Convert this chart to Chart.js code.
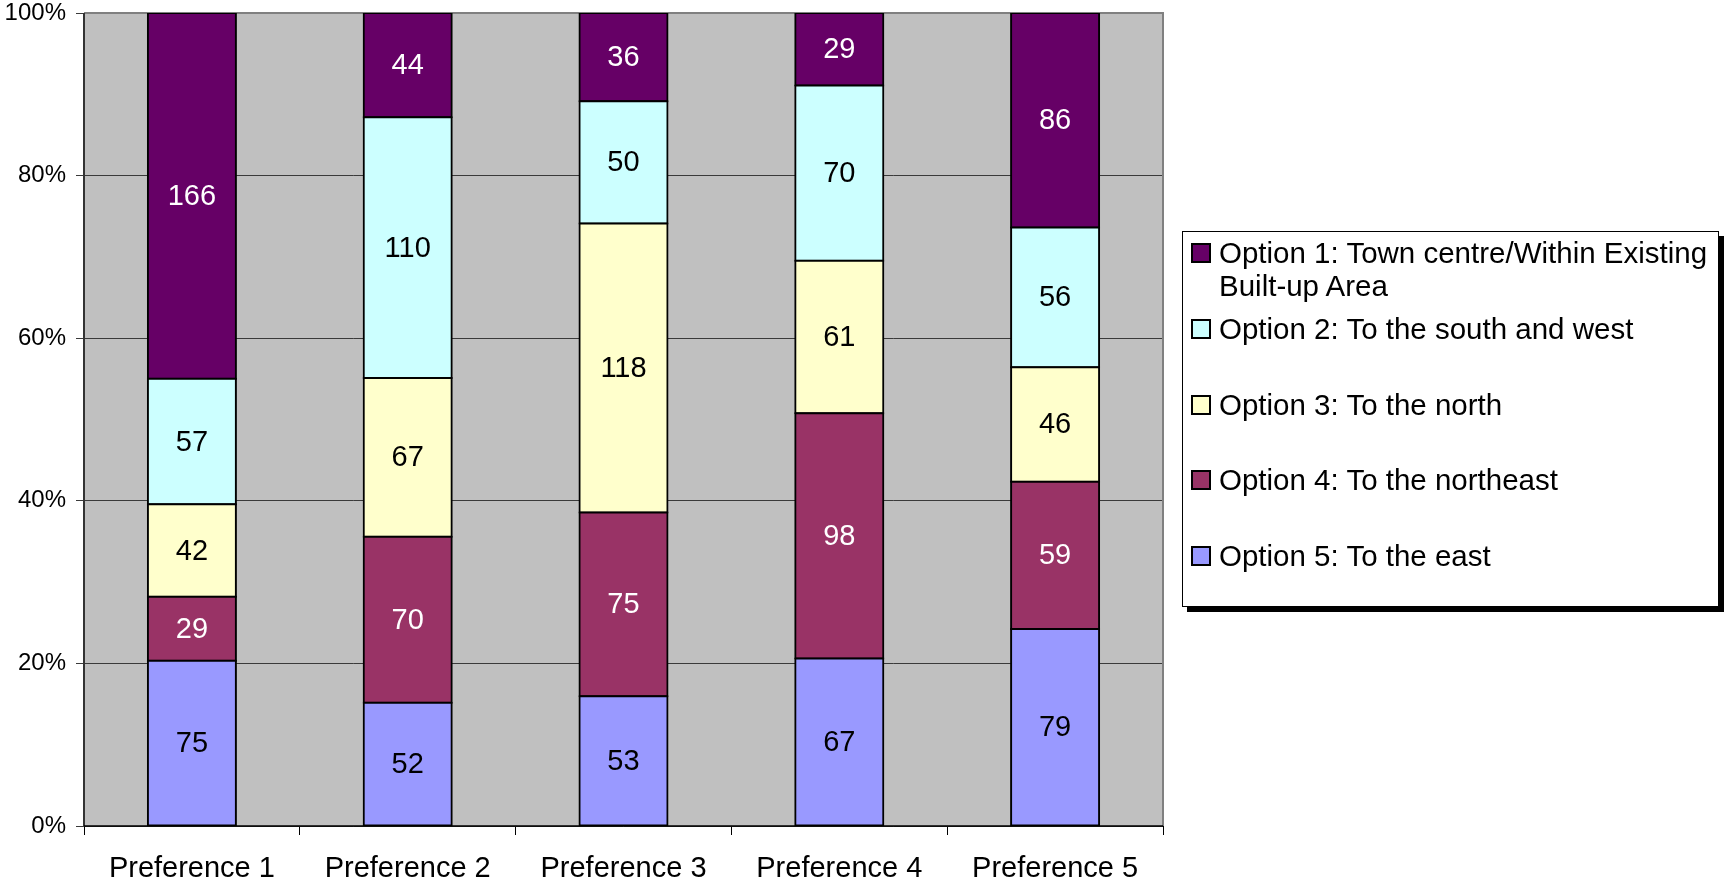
<!DOCTYPE html>
<html>
<head>
<meta charset="utf-8">
<script src="https://cdn.jsdelivr.net/npm/chart.js@4/dist/chart.umd.min.js"></script>
<style>
  html, body { margin: 0; padding: 0; background: #fff; }
  #wrap { position: relative; width: 1724px; height: 886px; }
  #legend {
    position: absolute; left: 1182px; top: 231px; width: 535px; height: 374px;
    border: 1px solid #000; background: #fff; box-shadow: 5px 5px 0 #000;
    font-family: "Liberation Sans", Arial, sans-serif; font-size: 29.5px; color: #000;
    box-sizing: content-box;
  }
  .item { position: absolute; left: 8px; display: flex; align-items: flex-start; }
  .mark { width: 16px; height: 16px; border: 2px solid #000; margin-top: 7px; margin-right: 8px; flex: none; }
  .txt { width: 500px; line-height: 33px; }
</style>
</head>
<body>
<div id="wrap">
  <canvas id="c" width="1724" height="886"></canvas>
  <div id="legend"></div>
</div>
<script>
const categories = ["Preference 1", "Preference 2", "Preference 3", "Preference 4", "Preference 5"];
const seriesNames = [
  "Option 1: Town centre/Within Existing Built-up Area",
  "Option 2: To the south and west",
  "Option 3: To the north",
  "Option 4: To the northeast",
  "Option 5: To the east"
];
const option1 = [166, 44, 36, 29, 86];
const option2 = [57, 110, 50, 70, 56];
const option3 = [42, 67, 118, 61, 46];
const option4 = [29, 70, 75, 98, 59];
const option5 = [75, 52, 53, 67, 79];
const yTicks = [0, 20, 40, 60, 80, 100];

const seriesValues = [option1, option2, option3, option4, option5];
const fills = ["#660066", "#CCFFFF", "#FFFFCC", "#993366", "#9999FF"];
const labelColors = ["#fff", "#000", "#000", "#fff", "#000"];

const totals = categories.map((_, i) => seriesValues.reduce((s, arr) => s + arr[i], 0));

// stack order bottom -> top: Option 5 ... Option 1
const order = [4, 3, 2, 1, 0];
const datasets = order.map(k => ({
  label: seriesNames[k],
  data: seriesValues[k].map((v, i) => v / totals[i] * 100),
  counts: seriesValues[k],
  labelColor: labelColors[k],
  backgroundColor: fills[k],
  borderColor: "#000",
  borderWidth: 2,
  inflateAmount: 1,
  borderSkipped: false,
  barPercentage: 0.408,
  categoryPercentage: 1.0
}));

const FONT = '"Liberation Sans", Arial, sans-serif';

const plotBg = {
  id: "plotBg",
  beforeDraw(chart) {
    const a = chart.chartArea, ctx = chart.ctx;
    ctx.save();
    ctx.fillStyle = "#C0C0C0";
    ctx.fillRect(a.left, a.top, a.right - a.left, a.bottom - a.top);
    ctx.restore();
  },
  beforeDatasetsDraw(chart) {
    const a = chart.chartArea, ctx = chart.ctx;
    ctx.save();
    ctx.strokeStyle = "#808080";
    ctx.lineWidth = 2;
    ctx.beginPath();
    ctx.moveTo(a.left, a.top); ctx.lineTo(a.right, a.top); ctx.lineTo(a.right, a.bottom);
    ctx.stroke();
    ctx.strokeStyle = "#333";
    ctx.lineWidth = 2;
    ctx.beginPath();
    ctx.moveTo(a.left, a.top); ctx.lineTo(a.left, a.bottom);
    ctx.stroke();
    ctx.strokeStyle = "#000";
    ctx.lineWidth = 1.5;
    ctx.beginPath();
    ctx.moveTo(a.left, a.bottom); ctx.lineTo(a.right, a.bottom);
    ctx.stroke();
    ctx.restore();
  }
};

const valueLabels = {
  id: "valueLabels",
  afterDatasetsDraw(chart) {
    const ctx = chart.ctx;
    ctx.save();
    ctx.font = "29px " + FONT;
    ctx.textAlign = "center";
    ctx.textBaseline = "middle";
    chart.data.datasets.forEach((ds, di) => {
      const meta = chart.getDatasetMeta(di);
      meta.data.forEach((el, i) => {
        const y = (el.y + el.base) / 2;
        ctx.fillStyle = ds.labelColor;
        ctx.fillText(String(ds.counts[i]), el.x, y + 1);
      });
    });
    ctx.restore();
  }
};

new Chart(document.getElementById("c"), {
  type: "bar",
  data: { labels: categories, datasets },
  options: {
    responsive: false,
    animation: false,
    devicePixelRatio: 1,
    layout: { padding: { top: 13, right: 561, left: 0, bottom: 0 } },
    plugins: { legend: { display: false }, tooltip: { enabled: false } },
    scales: {
      x: {
        stacked: true,
        offset: true,
        grid: { display: true, drawOnChartArea: false, drawTicks: true, tickLength: 9, color: "#000", lineWidth: 1, offset: true },
        border: { display: false },
        ticks: { color: "#000", font: { family: FONT, size: 29 }, padding: 17, maxRotation: 0 },
        afterFit(s) { s.height = 60; s.paddingLeft = 0; s.paddingRight = 0; }
      },
      y: {
        stacked: true,
        min: 0, max: 100,
        afterBuildTicks(s) { s.ticks = yTicks.map(v => ({ value: v })); },
        grid: { color: "#3a3a3a", lineWidth: 1, tickLength: 8, drawTicks: true },
        border: { display: false },
        ticks: { color: "#000", font: { family: FONT, size: 24 }, padding: 10, callback: v => v + "%" },
        afterFit(s) { s.width = 84; s.paddingTop = 0; s.paddingBottom = 0; }
      }
    }
  },
  plugins: [plotBg, valueLabels]
});

// HTML legend built from the series arrays
const legend = document.getElementById("legend");
const itemTops = [4, 80, 156, 231, 307];
seriesNames.forEach((name, k) => {
  const it = document.createElement("div");
  it.className = "item";
  it.style.top = itemTops[k] + "px";
  const m = document.createElement("div");
  m.className = "mark";
  m.style.background = fills[k];
  const t = document.createElement("div");
  t.className = "txt";
  t.textContent = name;
  it.appendChild(m); it.appendChild(t);
  legend.appendChild(it);
});
</script>
</body>
</html>
